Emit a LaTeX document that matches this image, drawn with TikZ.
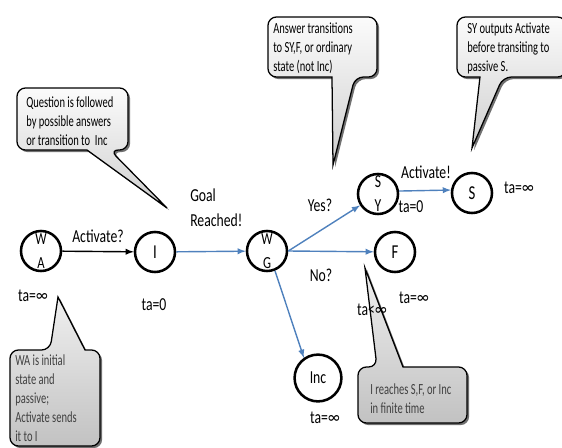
\documentclass[tikz,border=0pt]{standalone}
\usepackage{fontspec}
\setmainfont{Carlito}[FakeStretch=0.75]
\newfontfamily\notefont{Carlito}[FakeStretch=0.68]
\usetikzlibrary{shadows}
\definecolor{officeblue}{HTML}{4F81BD}
\tikzset{
	state/.style={circle,draw,line width=1.8pt,minimum size=1cm,inner sep=0pt,align=center,font=\fontsize{14}{16}\selectfont},
	pair/.style={state,font=\fontsize{12}{17}\selectfont},
	lbl/.style={inner sep=0pt,font=\fontsize{13}{18}\selectfont},
	balloon/.style={draw=black,line width=0.9pt,rounded corners=6,top color=gray!3,bottom color=gray!38,
		drop shadow={shadow xshift=1.5pt,shadow yshift=-1.5pt,fill=black!70,opacity=0.8}},
	darkballoon/.style={balloon,top color=gray!12,bottom color=gray!48},
	note/.style={anchor=west,align=left,inner sep=0pt,font=\notefont\fontsize{11}{13.5}\selectfont},
	trans/.style={-latex,line width=1pt,draw=officeblue}
}

\begin{document}
\begin{tikzpicture}[x=0.025cm,y=-0.025cm]
	\useasboundingbox (0,0) rectangle (562,448);
	
	% Callouts
	\path[balloon] (17,88) -- (128,88) -- (128,150) -- (110,150) [sharp corners] -- (167,208) -- (87,150) [rounded corners=6] -- (17,150) -- cycle;
	\path[balloon] (268,17) -- (377,17) -- (377,77) -- (355,77) [sharp corners] -- (333,165) -- (332,77) [rounded corners=6] -- (268,77) -- cycle;
	\path[balloon] (457,17) -- (566,17) -- (566,77) -- (503,77) [sharp corners] -- (472,148) -- (480,77) [rounded corners=6] -- (457,77) -- cycle;
	\path[darkballoon] (10,350) -- (50,350) [sharp corners] -- (58,297) -- (85,350) [rounded corners=6] -- (100,350) -- (100,446) -- (10,446) -- cycle;
	\path[darkballoon] (358,367) -- (377,367) [sharp corners] -- (365,268) -- (403,367) [rounded corners=6] -- (467,367) -- (467,423) -- (358,423) -- cycle;
	
	\node[note] (question) at (26,121) {Question is followed\\by possible answers\\or transition to\ \ Inc};
	\node[note] (answer) at (273,48) {Answer transitions\\to SY,F, or ordinary\\state (not Inc)};
	\node[note] (output) at (467,48) {SY outputs Activate\\before transiting to\\passive S.};
	\node[note,text=black!75] (initial) at (15,398) {WA is initial\\state and\\passive;\\Activate sends\\it to I};
	\node[note,text=black!75] (finite) at (370,399) {I reaches S,F, or Inc\\in finite time};
	
	% States
	\node[pair] (WA) at (41,251) {W\\A};
	\node[state] (I) at (155,252) {I};
	\node[pair] (WG) at (267,251) {W\\G};
	\node[state,font=\fontsize{13}{17}\selectfont] (SY) at (378,194) {S\\Y};
	\node[state] (S) at (472,193) {S};
	\node[state] (F) at (395,252) {F};
	\node[state,minimum size=1.17cm,font=\fontsize{13}{16}\selectfont] (Inc) at (318,378) {Inc};
	
	% Transitions
	\draw[-latex,line width=1pt] (WA) -- (I);
	\draw[trans] (I) -- (WG);
	\draw[trans] (WG.east) -- (SY);
	\draw[trans] (WG.east) -- (F);
	\draw[trans] (WG.-68) -- (Inc.125);
	\draw[trans] (SY.8) -- (S.172);
	
	% Labels
	\node[lbl] (taWA) at (33,296) {ta=∞};
	\node[lbl] (taI) at (154,305) {ta=0};
	\node[lbl] (activateq) at (98,236) {Activate?};
	\node[lbl,anchor=west,align=left] (goal) at (190,208) {Goal\\Reached!};
	\node[lbl] (yes) at (320,205) {Yes?};
	\node[lbl] (no) at (321,275) {No?};
	\node[lbl] (taSY) at (411,207) {ta=0};
	\node[lbl] (activatex) at (426,172) {Activate!};
	\node[lbl] (taS) at (519,188) {ta=∞};
	\node[lbl] (taF) at (414,298) {ta=∞};
	\node[lbl] (taFin) at (372,310) {ta<∞};
	\node[lbl] (taInc) at (325,418) {ta=∞};
\end{tikzpicture}
\end{document}
